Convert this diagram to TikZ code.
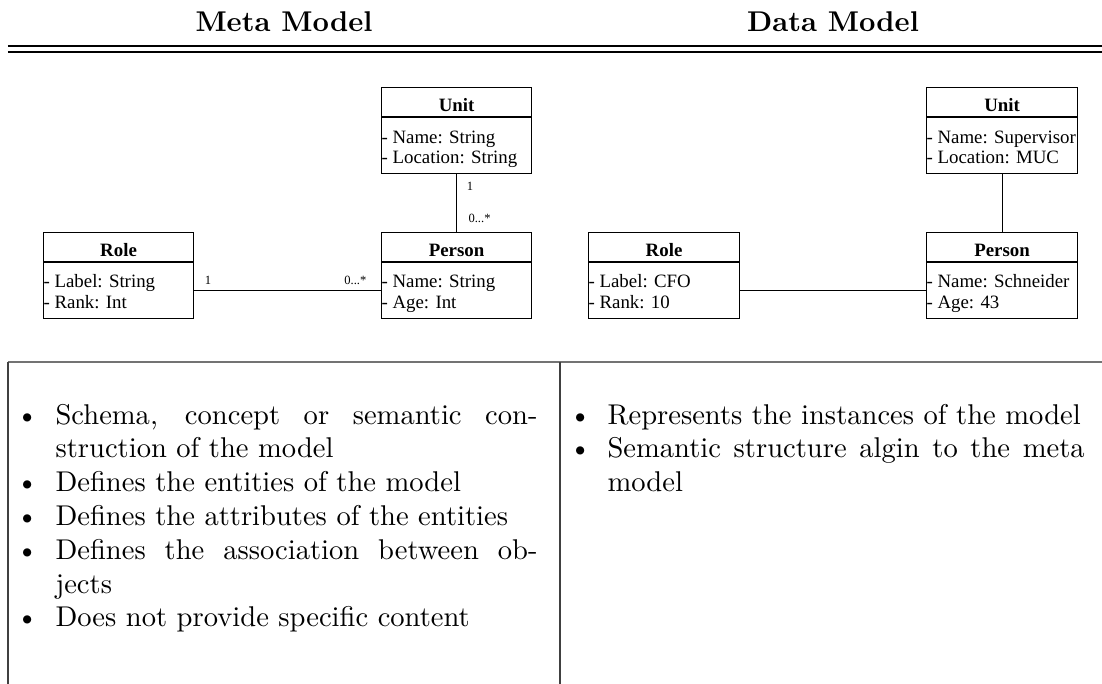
\documentclass[tikz,border=0pt]{standalone}
\usepackage{fontspec}
\newfontfamily\umlfont{Liberation Serif}
\usetikzlibrary{calc}

% one drawing unit = one pixel of the final picture
\newdimen\pxu \pxu=0.35pt
\newdimen\colwl \colwl=168.7pt
\newdimen\colwr \colwr=167pt

\tikzset{
  classbox/.style={draw, line width=0.4pt, minimum height=86\pxu, inner sep=0pt, anchor=north west},
  ctitle/.style={font=\umlfont\fontsize{6.6}{7.5}\selectfont\bfseries, inner sep=0pt, anchor=base},
  cattr/.style={font=\umlfont\fontsize{6.6}{7.5}\selectfont, inner sep=0pt, anchor=base west},
  mult/.style={font=\umlfont\fontsize{4.4}{5}\selectfont, inner sep=0pt, anchor=base},
  link/.style={line width=0.4pt},
  hdr/.style={font=\normalsize\bfseries, inner sep=0pt, anchor=base},
  bodyline/.style={font=\normalsize, inner sep=0pt, anchor=base west},
  bul/.style={font=\normalsize, inner sep=0pt, anchor=base east},
  thinrule/.style={line width=0.4pt},
  toprule/.style={line width=0.7pt, draw=black!55},
  colrule/.style={line width=0.5pt, draw=black!75},
}

% class box: name, left x, top y, width, title, first and second attribute
\newcommand\umlclass[7]{%
  \node[classbox, minimum width=#4\pxu] (#1) at (#2,#3) {};
  \draw[line width=0.4pt] ($(#1.north west)+(0,30)$) -- ($(#1.north east)+(0,30)$);
  \node[ctitle] (#1-t) at ($(#1.north)+(0,24)$) {#5};
  \node[cattr] (#1-a) at ($(#1.north west)+(0,56)$) {- #6};
  \node[cattr] (#1-b) at ($(#1.north west)+(0,77)$) {- #7};
}

\begin{document}
\begin{tikzpicture}[x=0.35pt, y=-0.35pt]
\useasboundingbox (0,0) rectangle (1102,684);

% column headings and double rule
\node[hdr] (hmeta) at (284,31) {Meta Model};
\node[hdr] (hdata) at (833,31) {Data Model};
\draw[thinrule] (8,46) -- (1102,46);
\draw[thinrule] (8,52) -- (1102,52);

% meta model classes
\umlclass{mu}{381}{87}{150}{Unit}{Name: String}{Location: String}
\umlclass{mp}{381}{232}{150}{Person}{Name: String}{Age: Int}
\umlclass{mr}{43}{232}{150}{Role}{Label: String}{Rank: Int}
\draw[link] (mu.south) -- (mp.north);
\draw[link] ($(mr.east)+(0,15)$) -- ($(mp.west)+(0,15)$);
\node[mult] (m1) at (470,190) {1};
\node[mult, anchor=base west] (m2) at (468,222) {0...*};
\node[mult] (m3) at (208,285) {1};
\node[mult, anchor=base east] (m4) at (367,285) {0...*};

% data model instances
\umlclass{du}{926}{87}{151}{Unit}{Name: Supervisor}{Location: MUC}
\umlclass{dp}{926}{232}{151}{Person}{Name: Schneider}{Age: 43}
\umlclass{dr}{588}{232}{151}{Role}{Label: CFO}{Rank: 10}
\draw[link] (du.south) -- (dp.north);
\draw[link] ($(dr.east)+(0,15)$) -- ($(dp.west)+(0,15)$);

% description table frame
\draw[toprule] (8,362) -- (1102,362);
\draw[colrule] (8,362) -- (8,684);
\draw[colrule] (560,362) -- (560,684);

% left column
\node[bul] (lb1) at (39,424) {\textbullet};
\node[bodyline] (l1) at (55,424) {\makebox[\colwl][s]{Schema, concept or semantic con-}};
\node[bodyline] (l2) at (55,457.8) {struction of the model};
\node[bul] (lb2) at (39,491.6) {\textbullet};
\node[bodyline] (l3) at (55,491.6) {Defines the entities of the model};
\node[bul] (lb3) at (39,525.4) {\textbullet};
\node[bodyline] (l4) at (55,525.4) {Defines the attributes of the entities};
\node[bul] (lb4) at (39,559.2) {\textbullet};
\node[bodyline] (l5) at (55,559.2) {\makebox[\colwl][s]{Defines the association between ob-}};
\node[bodyline] (l6) at (55,593) {jects};
\node[bul] (lb5) at (39,626.8) {\textbullet};
\node[bodyline] (l7) at (55,626.8) {Does not provide specific content};

% right column
\node[bul] (rb1) at (592,424) {\textbullet};
\node[bodyline] (r1) at (607,424) {Represents the instances of the model};
\node[bul] (rb2) at (592,457.8) {\textbullet};
\node[bodyline] (r2) at (607,457.8) {\makebox[\colwr][s]{Semantic structure algin to the meta}};
\node[bodyline] (r3) at (607,491.6) {model};
\end{tikzpicture}
\end{document}
